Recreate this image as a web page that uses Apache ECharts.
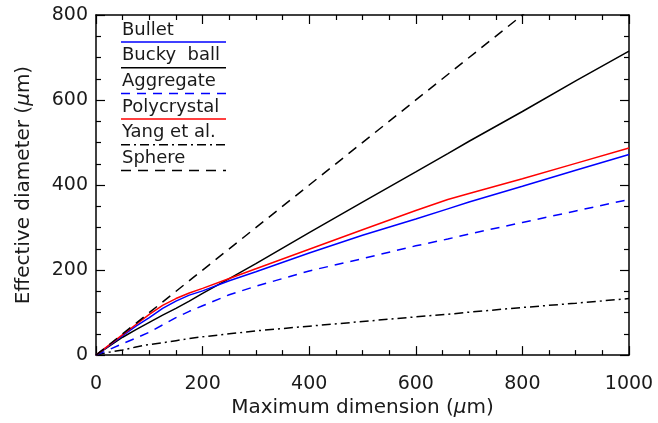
<!DOCTYPE html>
<html><head><meta charset="utf-8">
<script src="https://cdn.jsdelivr.net/npm/echarts@6/dist/echarts.min.js"></script>
<style>html,body{margin:0;padding:0;background:#fff}#c{width:658px;height:423px}</style>
</head><body><div id="c"></div>
<script>
const xGrid = [0,25,50,75,100,125,150,175,200,250,300,400,500,600,660,700,800,900,1000];
const bullet      = [0,23,46,68,88,110,127,141,151,175,196,240,282,320,344,360,397,435,472];
const buckyBall   = [0,21,42,60,77,94,110,127,145,180,215,288,360,431,474,503,573,645,715];
const aggregate   = [0,13,27,40,54,71,88,103,116,142,162,198,227,257,273,285,312,339,366];
const polycrystal = [0,24,48,72,96,117,133,146,157,180,203,249,295,340,366,380,415,451,487];
const yang        = [0,7,12,19,25,29,34,39,43,50,57,68,79,90,96,101,112,122,133];
const sphereX = [0,1000];
const sphereY = [0,1000];
const legendNames = ['Bullet','Bucky  ball','Aggregate','Polycrystal','Yang et al.','Sphere'];

const FONT = 'DejaVu Sans';
const TXT = '#1a1a1a';
const pairs = (xs, ys) => xs.map((x,i)=>[x, ys[i]]);

const styles = [
  {color:'#0000ff', type:'solid'},
  {color:'#000000', type:'solid'},
  {color:'#0000ff', type:[9,7]},
  {color:'#ff0000', type:'solid'},
  {color:'#000000', type:[9,4,2,4]},
  {color:'#000000', type:[10,7]}
];
const seriesZ = [4,3,2,5,1,6];
const seriesData = [
  pairs(xGrid, bullet), pairs(xGrid, buckyBall), pairs(xGrid, aggregate),
  pairs(xGrid, polycrystal), pairs(xGrid, yang), pairs(sphereX, sphereY)
];

const chart = echarts.init(document.getElementById('c'), null, {renderer:'canvas'});
const axisCommon = {
  type:'value', min:0,
  axisLine:{show:true, onZero:false, lineStyle:{color:'#000', width:1.5}},
  axisTick:{show:true, inside:true, length:9, lineStyle:{color:'#000', width:1.2}},
  minorTick:{show:true, splitNumber:4, length:5, lineStyle:{color:'#000', width:1.2}},
  splitLine:{show:false}
};
const nameRich = {
  n:{fontFamily:FONT, fontSize:20, color:TXT},
  i:{fontFamily:FONT, fontSize:20, color:TXT, fontStyle:'italic'}
};
const fmt = v => String(v);

const legendGraphics = [];
legendNames.forEach((nm, k) => {
  const y = 42 + k*25.7;
  legendGraphics.push({
    type:'line', shape:{x1:121, y1:y, x2:226, y2:y},
    style:{stroke:styles[k].color, lineWidth:1.5, lineDash: styles[k].type==='solid'?null:styles[k].type}
  });
  legendGraphics.push({
    type:'text', x:122, y:y-3,
    style:{text:nm, font:'18px "'+FONT+'"', fill:TXT, verticalAlign:'bottom'}
  });
});

chart.setOption({
  animation:false,
  backgroundColor:'#fff',
  grid:{left:96, right:29, top:15, bottom:64},
  xAxis:[
    Object.assign({}, axisCommon, {
      max:1000, interval:200, position:'bottom',
      axisLabel:{fontFamily:FONT, fontSize:19, color:TXT, margin:19, formatter:fmt},
      name:'{n|Maximum dimension (}{i|μ}{n|m)}', nameLocation:'middle', nameGap:41,
      nameTextStyle:{rich:nameRich}
    }),
    Object.assign({}, axisCommon, {
      max:1000, interval:200, position:'top', axisLabel:{show:false}
    })
  ],
  yAxis:[
    Object.assign({}, axisCommon, {
      max:800, interval:200, position:'left',
      axisLabel:{fontFamily:FONT, fontSize:19, color:TXT, margin:8, formatter:fmt},
      name:'{n|Effective diameter (}{i|μ}{n|m)}', nameLocation:'middle', nameGap:62,
      nameTextStyle:{rich:nameRich}
    }),
    Object.assign({}, axisCommon, {
      max:800, interval:200, position:'right', axisLabel:{show:false}
    })
  ],
  series: seriesData.map((d,k)=>({
    type:'line', name:legendNames[k], data:d, showSymbol:false, symbol:'none',
    clip:true, smooth:false, z:seriesZ[k],
    lineStyle:{color:styles[k].color, width:1.5, type:styles[k].type}
  })),
  graphic: legendGraphics
});
</script></body></html>
